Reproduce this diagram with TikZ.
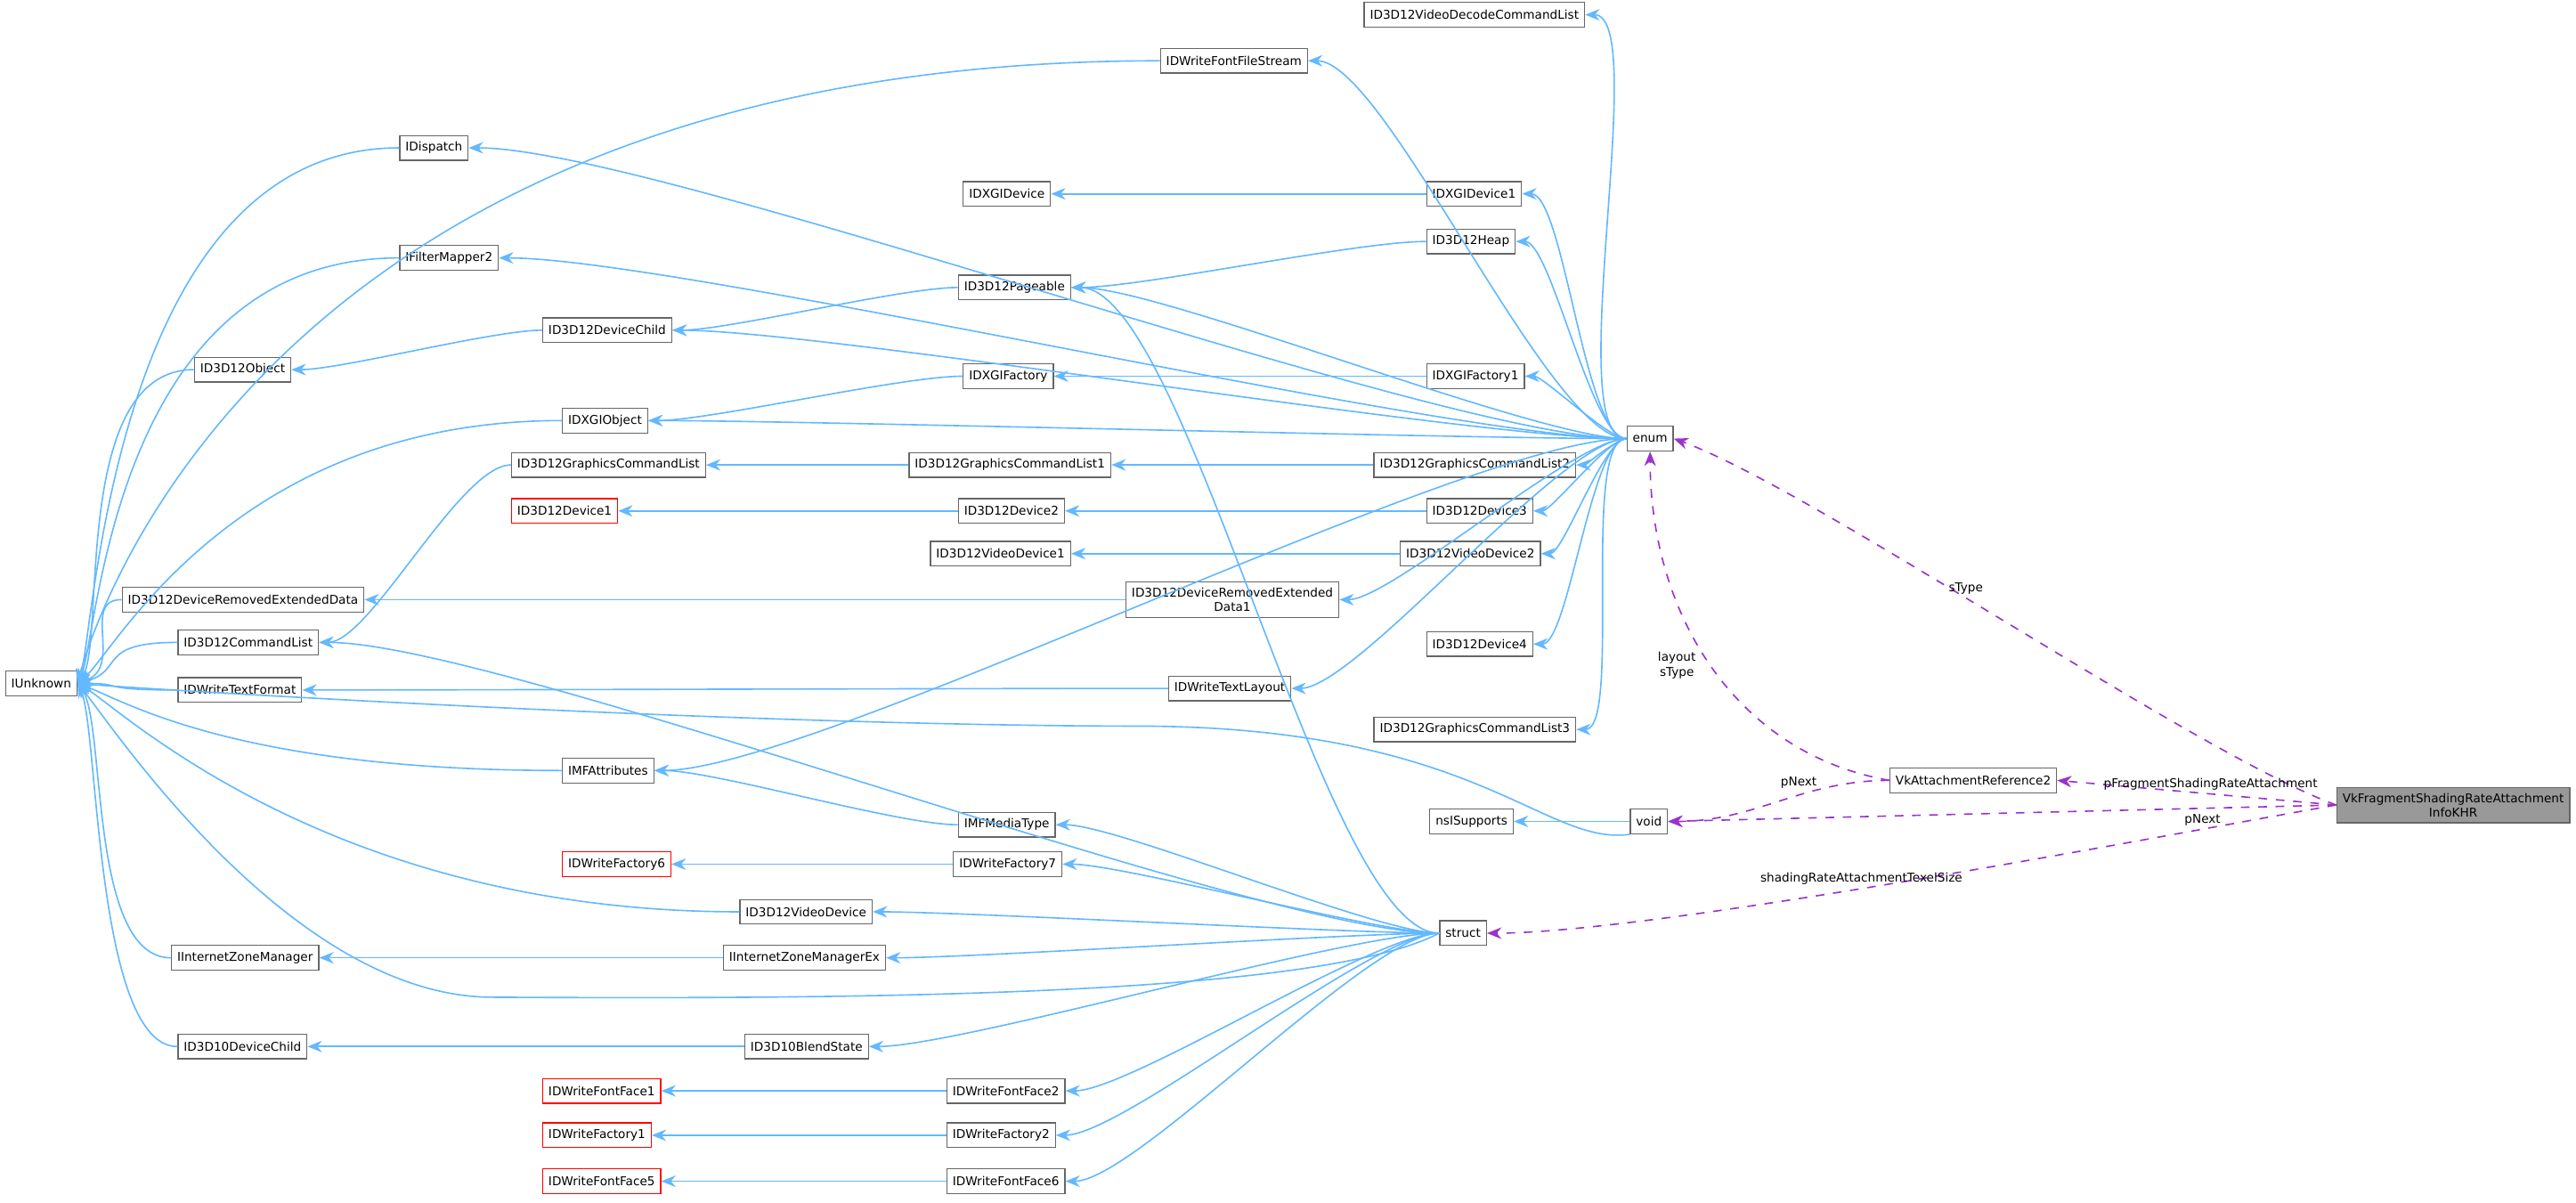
\documentclass[tikz,border=0pt]{standalone}
\usepackage{fontspec}
\setmainfont{DejaVu Sans}
\usetikzlibrary{arrows.meta}
\definecolor{inhblue}{HTML}{63B8FF}
\definecolor{usepurple}{HTML}{9A32CD}
\tikzset{
	box/.style={draw=black!60, fill=white, anchor=west, inner sep=2pt, minimum height=0.3cm, font=\fontsize{4.2}{5}\selectfont, align=center},
	redbox/.style={box, draw=red},
	inh/.style={draw=inhblue, -{Stealth[length=5pt,width=4pt]}, line width=0.5pt},
	use/.style={draw=usepurple, dashed, -{Stealth[length=5pt,width=4pt]}, line width=0.5pt},
	lbl/.style={font=\fontsize{4.2}{5}\selectfont, align=center, inner sep=1pt}
}
\begin{document}
\begin{tikzpicture}[x=0.02cm, y=-0.02cm]
	\useasboundingbox (0,0) rectangle (1568,732);
	%nodes
	\node[box] (iunk) at (3,416) {IUnknown};
	\node[box] (vdcl) at (830,9) {ID3D12VideoDecodeCommandList};
	\node[box] (ffs) at (706,37) {IDWriteFontFileStream};
	\node[box] (disp) at (243,90) {IDispatch};
	\node[box] (dxdev) at (586,118) {IDXGIDevice};
	\node[box] (dxdev1) at (868,118) {IDXGIDevice1};
	\node[box] (heap) at (868,147) {ID3D12Heap};
	\node[box] (fm2) at (243,157) {IFilterMapper2};
	\node[box] (pag) at (583,175) {ID3D12Pageable};
	\node[box] (dchild) at (330,201) {ID3D12DeviceChild};
	\node[box] (obj) at (118,225) {ID3D12Object};
	\node[box] (dxfac) at (586,229) {IDXGIFactory};
	\node[box] (dxfac1) at (868,229) {IDXGIFactory1};
	\node[box] (dxobj) at (342,256) {IDXGIObject};
	\node[box] (enum) at (990,267) {enum};
	\node[box] (gcl) at (311,283) {ID3D12GraphicsCommandList};
	\node[box] (gcl1) at (553,283) {ID3D12GraphicsCommandList1};
	\node[box] (gcl2) at (836,283) {ID3D12GraphicsCommandList2};
	\node[redbox] (dev1) at (311,311) {ID3D12Device1};
	\node[box] (dev2) at (583,311) {ID3D12Device2};
	\node[box] (dev3) at (868,311) {ID3D12Device3};
	\node[box] (vdev1) at (566,337) {ID3D12VideoDevice1};
	\node[box] (vdev2) at (852,337) {ID3D12VideoDevice2};
	\node[box] (dred) at (74,365) {ID3D12DeviceRemovedExtendedData};
	\node[box] (dred1) at (685,365) {ID3D12DeviceRemovedExtended\\Data1};
	\node[box] (cl) at (108,391) {ID3D12CommandList};
	\node[box] (dev4) at (868,392) {ID3D12Device4};
	\node[box] (tfmt) at (108,420) {IDWriteTextFormat};
	\node[box] (tlay) at (711,419) {IDWriteTextLayout};
	\node[box] (gcl3) at (836,444) {ID3D12GraphicsCommandList3};
	\node[box] (mfattr) at (342,469) {IMFAttributes};
	\node[box] (vkref) at (1150,475) {VkAttachmentReference2};
	\node[box, fill=black!40] (vkfsr) at (1422,490) {VkFragmentShadingRateAttachment\\InfoKHR};
	\node[box] (nsis) at (870,500) {nsISupports};
	\node[box] (void) at (992,500) {void};
	\node[box] (mfmt) at (583,502) {IMFMediaType};
	\node[redbox] (fac6) at (342,526) {IDWriteFactory6};
	\node[box] (fac7) at (580,526) {IDWriteFactory7};
	\node[box] (vdev) at (450,555) {ID3D12VideoDevice};
	\node[box] (struct) at (876,568) {struct};
	\node[box] (izm) at (104,583) {IInternetZoneManager};
	\node[box] (izmex) at (440,583) {IInternetZoneManagerEx};
	\node[box] (d10dc) at (108,637) {ID3D10DeviceChild};
	\node[box] (d10bs) at (453,637) {ID3D10BlendState};
	\node[redbox] (ff1) at (330,664) {IDWriteFontFace1};
	\node[box] (ff2) at (576,664) {IDWriteFontFace2};
	\node[redbox] (fac1) at (330,691) {IDWriteFactory1};
	\node[box] (fac2) at (576,691) {IDWriteFactory2};
	\node[redbox] (ff5) at (330,719) {IDWriteFontFace5};
	\node[box] (ff6) at (576,719) {IDWriteFontFace6};
	%inheritance
	\foreach \b in {vdcl,ffs,disp,dxdev1,fm2,heap,pag,dchild,dxfac1,dxobj,gcl2,dev3,vdev2,dred1,dev4,tlay,mfattr,gcl3}
		\draw[inh] (enum.west) to[out=180,in=0,looseness=0.4] (\b.east);
	\foreach \d/\a/\l in {ffs/75/11cm,disp/70/3.5cm,fm2/65/3.5cm,obj/55/1.5cm,dxobj/40/4cm,
		dred/20/0.5cm,cl/15/1cm,tfmt/0/1cm,mfattr/-20/4cm,vdev/-30/5cm,izm/-55/1cm,
		d10dc/-65/1cm}
		\draw[inh] (\d.west) to[out=180,in=\a,out distance=\l,in distance=0.6cm] (iunk.east);
	\draw[inh] (struct.west) .. controls (800,608) and (500,608) .. (300,607)
		to[out=180,in=-50,in distance=0.6cm] (iunk.east);
	\draw[inh] (void.south west) .. controls (940,515) and (900,444) .. (700,442)
		to[out=180,in=-5,in distance=0.6cm] (iunk.east);
	\foreach \d/\b in {dxdev1/dxdev,heap/pag,pag/dchild,dchild/obj,dxfac/dxobj,dxfac1/dxfac,
		gcl/cl,gcl1/gcl,gcl2/gcl1,dev2/dev1,dev3/dev2,vdev2/vdev1,dred1/dred,tlay/tfmt,
		mfmt/mfattr,fac7/fac6,izmex/izm,d10bs/d10dc,ff2/ff1,fac2/fac1,ff6/ff5,void/nsis}
		\draw[inh] (\d.west) to[out=180,in=0,looseness=0.5] (\b.east);
	\foreach \b in {pag,cl,mfmt,fac7,vdev,izmex,d10bs,ff2,fac2,ff6}
		\draw[inh] (struct.west) to[out=180,in=0,looseness=0.4] (\b.east);
	%members
	\draw[use] (vkfsr.west) to[out=160,in=-20,looseness=0.5] node[lbl, pos=0.55, above] {sType} (enum.east);
	\draw[use] (vkref.west) to[out=170,in=-90] node[lbl, pos=0.5, left=4pt] {layout\\sType} (enum.south);
	\draw[use] (vkfsr.west) -- node[lbl, pos=0.45, above] {pFragmentShadingRateAttachment} (vkref.east);
	\draw[use] (vkref.west) to[out=180,in=0] node[lbl, pos=0.4, above=1pt] {pNext} (void.east);
	\draw[use] (vkfsr.west) -- node[lbl, pos=0.2, below=1pt] {pNext} (void.east);
	\draw[use] (vkfsr.west) to[out=190,in=0,looseness=0.5] node[lbl, pos=0.55, above] {shadingRateAttachmentTexelSize} (struct.east);
\end{tikzpicture}
\end{document}
